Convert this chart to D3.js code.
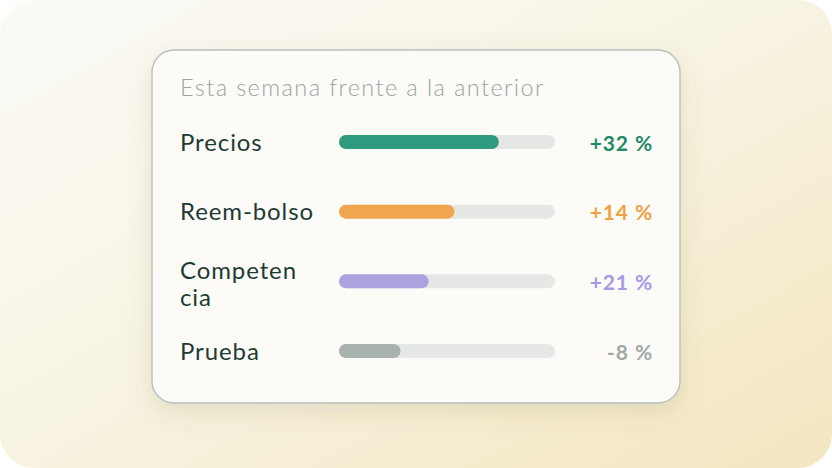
<!DOCTYPE html>
<html>
<head>
<meta charset="utf-8">
<script src="https://cdn.jsdelivr.net/npm/d3@7"></script>
<style>
  html, body { margin: 0; padding: 0; background: #ffffff; }
  svg { display: block; }
  text { font-family: Lato, "Noto Sans", sans-serif; }
</style>
</head>
<body>
<svg id="chart" width="832" height="468"></svg>
<script>
// ---- data ----
const title = "Esta semana frente a la anterior";
const categories = ["Precios", "Reem-bolso", "Competencia", "Prueba"];
const labelLines = [["Precios"], ["Reem-bolso"], ["Competen", "cia"], ["Prueba"]];
const changeValues = [32, 14, 21, -8];
const changeLabels = ["+32 %", "+14 %", "+21 %", "-8 %"];
const barShare = [0.74, 0.535, 0.415, 0.285];
const barColors = ["#2f9a7e", "#f0a54e", "#aba2e0", "#a8b2ae"];
const textColors = ["#1f8a68", "#f0a142", "#a69ae0", "#a0aaa6"];

// ---- layout ----
const W = 832, H = 468;
const card = { x: 152, y: 50, w: 528, h: 353, r: 22 };
const svg = d3.select("#chart");
const defs = svg.append("defs");

const bg = defs.append("linearGradient").attr("id", "bg")
  .attr("x1", "0").attr("y1", "0").attr("x2", "1").attr("y2", "1");
bg.append("stop").attr("offset", "0%").attr("stop-color", "#fbfaf7");
bg.append("stop").attr("offset", "45%").attr("stop-color", "#f8f4e4");
bg.append("stop").attr("offset", "100%").attr("stop-color", "#f3e7c0");

const sh = defs.append("filter").attr("id", "shadow")
  .attr("x", "-20%").attr("y", "-20%").attr("width", "140%").attr("height", "150%");
sh.append("feDropShadow").attr("dx", 0).attr("dy", 8).attr("stdDeviation", 12)
  .attr("flood-color", "#6b5a2a").attr("flood-opacity", 0.14);

svg.append("rect").attr("x", 0).attr("y", 0).attr("width", W).attr("height", H)
  .attr("rx", 34).attr("fill", "url(#bg)");

svg.append("rect").attr("x", card.x).attr("y", card.y)
  .attr("width", card.w).attr("height", card.h).attr("rx", card.r)
  .attr("fill", "#fcfbf8").attr("stroke", "#b7c0bc").attr("stroke-width", 1.4)
  .attr("filter", "url(#shadow)");

svg.append("text").attr("x", 180).attr("y", 96)
  .attr("font-size", 23.5).attr("font-weight", 300).attr("letter-spacing", 1.4)
  .attr("fill", "#9aa5a1")
  .text(title);

const y = d3.scalePoint().domain(categories).range([142, 351]);
const x = d3.scaleLinear().domain([0, 1]).range([339, 555]);
const barH = 14;

const rows = svg.append("g").selectAll("g").data(categories).join("g")
  .attr("transform", d => `translate(0,${y(d)})`);

rows.append("rect").attr("x", x(0)).attr("y", -barH / 2)
  .attr("width", x(1) - x(0)).attr("height", barH).attr("rx", barH / 2)
  .attr("fill", "#e6e8e5");

rows.append("rect").attr("x", x(0)).attr("y", -barH / 2)
  .attr("width", (d, i) => x(barShare[i]) - x(0)).attr("height", barH).attr("rx", barH / 2)
  .attr("fill", (d, i) => barColors[i]);

rows.each(function (d, i) {
  const lines = labelLines[i];
  const t = d3.select(this).append("text")
    .attr("x", 180).attr("font-size", 24).attr("font-weight", 400)
    .attr("letter-spacing", 0.9).attr("fill", "#1e3b33");
  const first = lines.length > 1 ? -2 : 8.5;
  lines.forEach((ln, k) => {
    t.append("tspan").attr("x", 180).attr("y", first + k * 27).text(ln);
  });
});

rows.append("text").attr("x", 653).attr("y", 8.5)
  .attr("text-anchor", "end").attr("font-size", 21).attr("font-weight", 700)
  .attr("letter-spacing", 0.9)
  .attr("fill", (d, i) => textColors[i])
  .text((d, i) => changeLabels[i]);
</script>
</body>
</html>
